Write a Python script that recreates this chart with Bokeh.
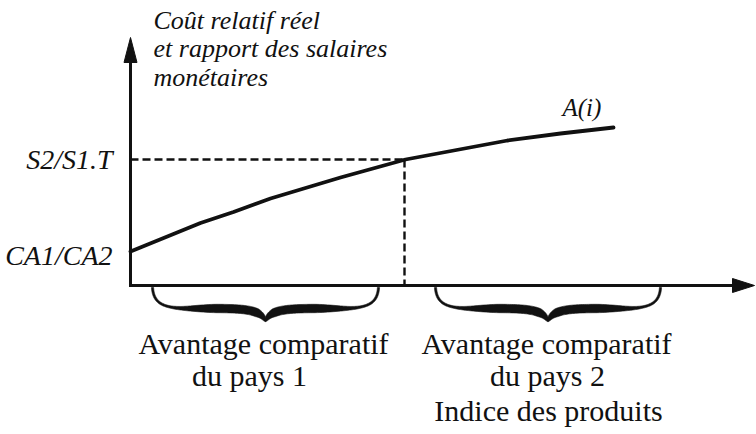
import numpy as np
from bokeh.plotting import figure
from bokeh.models import Range1d
from bokeh.core.properties import value
from bokeh.embed import file_html
from bokeh.resources import INLINE

# ---------------- data (abstract units: product index / relative cost) -------------
curve_x = [0.0, 1.4, 2.06, 2.8, 4.2, 5.5, 7.54, 8.6, 9.66]
curve_y = [0.68, 1.25, 1.47, 1.74, 2.16, 2.52, 2.90, 3.04, 3.16]
eq_x = 5.48          # product index at S2/S1.T
eq_y = 2.52          # S2/S1.T level
axis_x_end = 12.48   # x axis arrow tip
axis_y_end = 4.96    # y axis arrow tip

y_labels = ["S2/S1.T", "CA1/CA2"]
y_label_vals = [2.52, 0.60]

title_lines = ["Coût relatif réel", "et rapport des salaires", "monétaires"]
title_x = 0.46
title_y = [5.30, 4.75, 4.17]

curve_label = "A(i)"
curve_label_x = 8.64
curve_label_y = 3.56

brace_starts = [0.44, 6.10]
brace_ends = [4.96, 10.60]

bottom_lines = ["Avantage comparatif", "du pays 1", "Avantage comparatif", "du pays 2",
                "Indice des produits"]
bottom_x = [2.66, 2.38, 8.32, 8.34, 8.36]
bottom_y = [-1.16, -1.80, -1.16, -1.80, -2.50]

PX = 50.0  # pixels per data unit (both axes)

p = figure(width=756, height=434, output_backend="svg", toolbar_location=None,
           x_range=Range1d(-2.6, 12.52), y_range=Range1d(-2.98, 5.70),
           x_axis_type=None, y_axis_type=None, min_border=0)
p.grid.visible = False
p.outline_line_color = None
p.background_fill_color = "white"
p.border_fill_color = "white"

INK = "#111111"
SERIF = value("'Liberation Serif', 'Times New Roman', serif")

# axes
p.line([0, 0], [-0.03, axis_y_end - 24 / PX], line_width=3, line_color=INK)
p.line([-0.03, axis_x_end - 20 / PX], [0, 0], line_width=3, line_color=INK)
# arrow heads
p.patch([-6.5 / PX, 0, 6.5 / PX], [axis_y_end - 25 / PX, axis_y_end, axis_y_end - 25 / PX],
        fill_color=INK, line_color=INK, line_width=1)
p.patch([axis_x_end - 22 / PX, axis_x_end, axis_x_end - 22 / PX], [-7 / PX, 0, 7 / PX],
        fill_color=INK, line_color=INK, line_width=1)

# dashed guides
p.line([0, eq_x], [eq_y, eq_y], line_width=2.4, line_dash="8 4", line_color=INK)
p.line([eq_x, eq_x], [eq_y, 0], line_width=2.4, line_dash="8 4", line_color=INK)

# curve A(i)
p.line(curve_x, curve_y, line_width=3.8, line_color=INK, line_cap="round", line_join="round")


# braces
def bez(P, n):
    t = np.linspace(0, 1, n)[:, None]
    P = np.array(P, dtype=float)
    return ((1 - t) ** 3) * P[0] + 3 * ((1 - t) ** 2) * t * P[1] + 3 * (1 - t) * t ** 2 * P[2] + t ** 3 * P[3]


def half_brace(x0, xc, ytop, yh, ytip):
    L = xc - x0
    A = bez([(x0, ytop), (x0 + 0.01 * L, ytop + (yh - ytop) * 0.85), (x0 + 0.12 * L, yh), (x0 + 0.35 * L, yh)], 50)
    B = bez([(x0 + 0.35 * L, yh), (x0 + 0.78 * L, yh), (xc - 0.05 * L, yh + 0.02), (xc, ytip)], 50)
    pts = np.vstack([A, B[1:]])
    seg = np.hypot(np.diff(pts[:, 0]), np.diff(pts[:, 1]))
    s = np.concatenate([[0], np.cumsum(seg)])
    s /= s[-1]
    grow = np.clip((s - 0.18) / 0.42, 0, 1)
    grow = grow * grow * (3 - 2 * grow)
    shrink = np.clip((1 - s) / 0.10, 0, 1) ** 0.6
    thick = (0.6 + (1.6 + 6.2 * grow) * shrink) / PX
    dx = np.gradient(pts[:, 0])
    dy = np.gradient(pts[:, 1])
    nrm = np.hypot(dx, dy)
    nx, ny = -dy / nrm, dx / nrm
    up = pts + np.column_stack([nx, ny]) * thick[:, None] / 2
    lo = pts - np.column_stack([nx, ny]) * thick[:, None] / 2
    poly = np.vstack([up, lo[::-1]])
    return list(poly[:, 0]), list(poly[:, 1])


bx, by = [], []
for a, b in zip(brace_starts, brace_ends):
    c = (a + b) / 2
    for end in (a, b):
        xs, ys = half_brace(end, c, -0.04, -0.46, -0.72)
        bx.append(xs)
        by.append(ys)
p.patches(bx, by, fill_color=INK, line_color=INK, line_width=0.6)

# texts
p.text(x=[title_x] * 3, y=title_y, text=title_lines, text_font=SERIF, text_font_style="italic",
       text_font_size="26px", text_align="left", text_baseline="middle", text_color=INK)
p.text(x=[-0.36] * 2, y=y_label_vals, text=y_labels, text_font=SERIF, text_font_style="italic",
       text_font_size="28px", text_align="right", text_baseline="middle", text_color=INK)
p.text(x=[curve_label_x], y=[curve_label_y], text=[curve_label], text_font=SERIF,
       text_font_style="italic", text_font_size="25px", text_align="left",
       text_baseline="middle", text_color=INK)
p.text(x=bottom_x, y=bottom_y, text=bottom_lines, text_font=SERIF, text_font_size="30px",
       text_align="center", text_baseline="middle", text_color=INK)

open("out.html", "w").write(file_html(p, INLINE))
